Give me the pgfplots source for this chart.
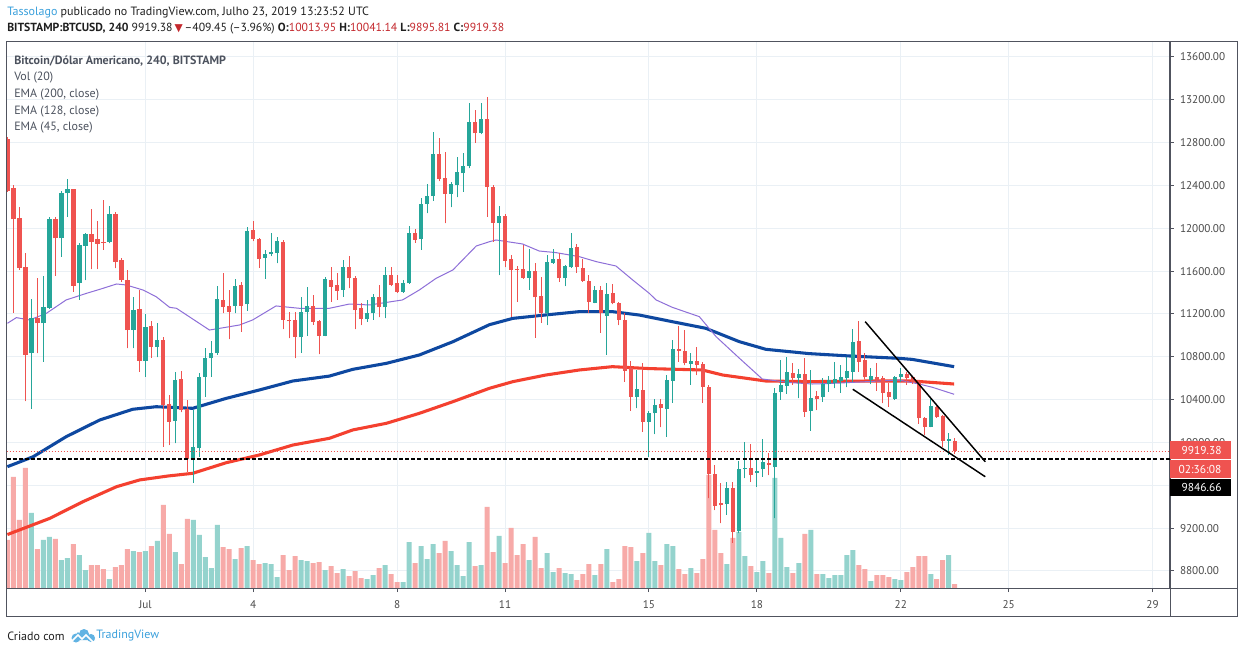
\documentclass[border=0pt]{standalone}
\usepackage{pgfplots}
\pgfplotsset{compat=1.18}
\usepackage{pgfplotstable}
\usepackage{fontspec}
\setmainfont{PT Sans}
\newfontfamily\dejavu{DejaVu Sans}
\definecolor{tvgreen}{HTML}{26A69A}
\definecolor{tvred}{HTML}{EF5350}
\definecolor{volgreen}{HTML}{94D3CD}
\definecolor{volred}{HTML}{F7AAA8}
\definecolor{emared}{HTML}{F4402F}
\definecolor{emablue}{HTML}{0E48A0}
\definecolor{emapurple}{HTML}{8E6FD8}
\definecolor{gridc}{HTML}{EAF0F5}
\definecolor{framec}{HTML}{50535E}
\definecolor{labelc}{HTML}{4A4A4A}
\definecolor{legc}{HTML}{4C525E}
\definecolor{linkc}{HTML}{3AA0DC}
\definecolor{hred}{HTML}{C4282D}

% i O H L C V
\pgfplotstableread{
i O H L C V
4 10832 11340 10316 11160 75
6 11113 11555 10755 11262 48
7 11259 12109 11250 12087 51
9 11906 12352 11735 12333 28
10 12327 12461 12109 12367 30
12 11492 11860 11331 11844 33
13 11838 11953 11517 11947 18
17 11875 12208 11860 12134 9
21 11050 11362 10879 11240 37
23 10764 11200 10615 11078 37
25 10895 11119 10795 10957 47
28 10204 10661 9992 10583 36
31 9836 10303 9625 9961 68
32 9945 10646 9867 10608 53
33 10615 10879 10428 10786 31
34 10786 10951 10615 10839 20
35 10832 11461 10820 11340 63
38 11274 11527 11206 11461 29
40 11290 12015 11231 11978 42
43 11726 11798 11527 11760 25
44 11760 11953 11740 11779 24
45 11773 11922 11673 11882 11
49 10982 11362 10839 11218 28
50 11218 11449 10995 11274 27
53 10997 11542 10990 11527 18
56 11424 11704 11362 11642 19
60 11150 11331 11128 11212 9
61 11206 11387 11144 11355 13
63 11262 11636 11159 11564 23
66 11408 11517 11400 11486 6
67 11486 12022 11480 11953 46
69 11900 12280 11798 12227 42
70 12227 12414 12140 12302 29
71 12302 12896 12258 12694 44
74 12321 12436 12196 12411 37
75 12405 12669 12289 12526 23
76 12514 12700 12342 12582 12
77 12582 13174 12560 12990 46
79 12893 13167 12880 13018 23
82 12053 12208 11564 12115 52
87 11539 11804 11424 11601 28
90 11206 11751 11097 11682 35
91 11679 11804 11670 11714 16
93 11533 11660 11461 11648 15
94 11636 11953 11630 11813 14
98 11306 11461 11300 11424 13
100 11181 11493 10817 11387 39
105 10428 10677 10319 10497 27
107 10194 10290 9867 10279 55
108 10272 10403 10079 10350 27
110 10310 10630 10054 10583 44
111 10577 10957 10372 10870 42
114 10733 10839 10537 10761 20
120 9425 9634 9323 9572 24
122 9176 9830 9150 9749 56
123 9749 10008 9665 9759 32
125 9718 9836 9587 9734 16
126 9749 10029 9681 9815 27
128 9768 10506 9292 10459 110
129 10468 10770 10397 10537 50
130 10531 10801 10453 10661 21
132 10605 10683 10412 10640 25
134 10297 10677 10110 10412 58
136 10421 10599 10381 10546 14
137 10546 10621 10475 10583 10
138 10552 10755 10506 10590 13
139 10577 10723 10465 10608 13
140 10599 10795 10515 10668 33
141 10661 11057 10568 10942 38
144 10583 10693 10546 10621 7
148 10403 10620 10400 10608 9
149 10608 10692 10568 10640 8
154 10148 10403 10140 10341 14
157 10014 10085 9883 10029 33
}\greentab

\pgfplotstableread{
i O H L C V
0 12831 12850 12340 12352 48
1 12373 12405 11212 12084 111
2 12093 12196 11611 11633 68
3 11639 11766 10387 10817 120
5 11160 11539 10832 11113 39
8 12087 12103 11555 11906 49
11 12367 12370 11408 11464 44
14 11947 12177 11617 11875 23
15 11900 12068 11620 11854 23
16 11869 12264 11800 11863 19
18 12134 12149 11626 11688 21
19 11704 11720 11500 11517 23
20 11517 11611 10879 11050 39
22 11247 11424 10661 10764 36
24 11088 11134 10792 10895 42
26 10957 10988 9961 10350 83
27 10359 10443 9976 10194 54
29 10593 10668 10280 10303 24
30 10316 10397 9727 9843 69
36 11330 11586 11206 11268 41
37 11274 11424 10963 11222 39
39 11471 11500 11035 11278 40
41 11984 12071 11880 11900 28
42 11900 11910 11633 11713 24
46 11875 11890 11057 11144 33
47 11144 11222 10973 11130 18
48 11144 11222 10786 10988 32
51 11274 11377 11100 11128 25
52 11134 11140 10823 10997 26
54 11517 11642 11315 11455 22
55 11471 11586 11331 11418 15
57 11642 11745 11440 11533 12
58 11539 11550 11057 11237 17
59 11253 11299 11097 11150 10
62 11355 11471 11169 11262 20
64 11564 11642 11460 11471 14
65 11492 11564 11400 11408 6
68 11953 11990 11866 11891 25
72 12694 12840 12440 12461 35
73 12467 12716 12047 12321 47
78 12990 13105 12800 12887 22
80 13018 13223 12109 12389 81
81 12383 12400 11875 12053 36
83 12115 12130 11636 11698 25
84 11714 11751 11175 11611 60
85 11620 11648 11312 11611 33
86 11620 11844 11530 11539 44
88 11601 11673 10979 11355 51
89 11368 11542 11119 11206 20
92 11714 11767 11502 11533 20
95 11822 11854 11586 11636 8
96 11632 11710 11500 11511 14
97 11508 11564 11212 11315 24
99 11424 11461 11025 11206 24
101 11393 11480 11290 11299 6
102 11299 11310 11097 11144 9
103 11144 11206 10568 10671 42
104 10692 10764 10297 10428 41
106 10490 10739 10101 10194 35
109 10356 10403 10141 10319 23
112 10870 11088 10755 10857 19
113 10854 11050 10720 10739 14
115 10761 10895 10630 10723 15
116 10733 10750 10372 10521 29
117 10521 10537 9478 9706 113
118 9706 9790 9369 9407 58
119 9438 9618 9245 9416 35
121 9572 9634 9064 9167 50
124 9759 9986 9634 9696 22
127 9805 9899 9696 9790 15
131 10652 10745 10537 10605 15
133 10640 10786 10241 10288 54
135 10434 10484 10303 10403 14
142 10951 11138 10661 10755 23
143 10770 10839 10590 10608 19
145 10608 10739 10484 10583 13
146 10599 10620 10366 10465 13
147 10475 10552 10334 10428 11
150 10640 10660 10537 10605 16
151 10608 10621 10550 10568 21
152 10568 10580 10173 10225 32
153 10225 10240 10070 10148 32
155 10328 10340 10230 10241 9
156 10247 10260 9955 10017 28
158 10013.95 10041.14 9895.81 9919.38 4
}\redtab

\pgfplotstableread{
i v
0 9140
7.05 9291
12.6 9447
18.2 9587
22.05 9650
26.8 9687
30.9 9712
36.5 9811
42.0 9883
47.6 9976
53.7 10039
57.6 10117
63.2 10179
68.7 10272
74.3 10381
80.4 10506
84.3 10568
89.8 10630
95.4 10677
100.9 10708
107.05 10690
115.9 10677
119.3 10630
126.5 10574
133.7 10568
143.2 10574
150.9 10574
157.9 10546
}\emaA

\pgfplotstableread{
i v
0 9774
4.3 9867
9.8 10054
15.4 10210
20.9 10310
24.8 10334
30.9 10319
36.5 10412
42.0 10490
47.6 10574
53.7 10620
57.6 10683
63.2 10739
68.7 10817
74.3 10941
80.4 11100
84.3 11159
89.8 11191
95.4 11222
100.9 11222
105.4 11190
110.9 11128
116.5 11066
122.1 10941
126.5 10870
133.7 10830
140.4 10808
148.7 10786
150.9 10776
157.9 10708
}\emaB

\pgfplotstableread{
i v
0 11113
1.5 11166
3.7 11144
6.5 11206
9.8 11331
13.2 11393
15.4 11430
18.2 11480
19.8 11471
22.6 11424
24.8 11362
27.05 11262
28.2 11253
33.7 11050
38.7 11097
40.9 11144
44.8 11275
48.7 11253
53.7 11253
57.05 11293
60.4 11284
65.9 11331
68.7 11424
71.5 11533
74.3 11611
78.2 11835
80.4 11875
81.5 11891
85.9 11854
88.7 11788
91.5 11773
95.4 11735
98.2 11689
101.5 11648
104.3 11517
107.05 11393
108.2 11331
110.9 11262
115.4 11175
118.2 10988
122.1 10786
125.9 10593
130.4 10560
134.3 10546
137.6 10552
148.7 10583
152.05 10546
154.3 10515
157.9 10450
}\emaC

\pgfplotsset{tvgeom/.style={at={(4.875pt,48.75pt)}, anchor=south west, scale only axis,
  width=872.6pt, height=409.5pt, xmin=-0.15, xmax=193.9},
  candle/.style={only marks, mark size=0pt, mark options={draw=none, fill=none},
  error bars/.cd, y dir=plus, y explicit, error mark=none}}

\begin{document}
\begin{tikzpicture}
\begin{scope}[x=0.75pt,y=0.75pt]
\path[use as bounding box, fill=white] (0,0) rectangle (1244,653);
\end{scope}

% grid, ticks and labels
\begin{axis}[tvgeom, ymin=8641, ymax=13740,
  xtick={23,41,65,83,107,125,149,167,191},
  xticklabels={Jul,4,8,11,15,18,22,25,29},
  ytick={8800,9200,...,13600},
  scaled y ticks=false,
  grid=major, major grid style={color=gridc, line width=0.75pt},
  axis line style={color=framec, line width=0.75pt},
  tick style={color=framec, line width=0.75pt},
  tick align=outside, major tick length=3pt,
  xtick pos=lower, ytick pos=upper, yticklabel pos=upper,
  yticklabel style={font=\fontsize{8.4}{10}\selectfont, color=labelc, anchor=west, xshift=1pt},
  xticklabel style={font=\fontsize{8.4}{10}\selectfont, color=labelc, yshift=-3pt},
  /pgf/number format/.cd, fixed, fixed zerofill, precision=2, 1000 sep={}, assume math mode=true]
\end{axis}

% volume
\begin{axis}[tvgeom, hide axis, ymin=0, ymax=546, ybar, bar width=3.75pt, bar shift=0pt]
\addplot[fill=volgreen, draw=none] table[x=i, y=V] {\greentab};
\addplot[fill=volred, draw=none] table[x=i, y=V] {\redtab};
\end{axis}

% price series
\begin{axis}[tvgeom, hide axis, ymin=8641, ymax=13740]
\addplot[emared, line width=2.3pt] table[x=i, y=v] {\emaA};
\addplot[emablue, line width=2.3pt] table[x=i, y=v] {\emaB};
\addplot[emapurple, line width=0.75pt] table[x=i, y=v] {\emaC};
% wicks
\addplot[candle, error bar style={draw=tvgreen, line width=0.75pt}]
  table[x=i, y=L, y error expr=\thisrow{H}-\thisrow{L}] {\greentab};
\addplot[candle, error bar style={draw=tvred, line width=0.75pt}]
  table[x=i, y=L, y error expr=\thisrow{H}-\thisrow{L}] {\redtab};
% bodies
\addplot[candle, error bar style={draw=tvgreen, line width=3.3pt}]
  table[x=i, y=O, y error expr={max(\thisrow{C}-\thisrow{O},12)}] {\greentab};
\addplot[candle, error bar style={draw=tvred, line width=3.3pt}]
  table[x=i, y=C, y error expr={max(\thisrow{O}-\thisrow{C},12)}] {\redtab};
% price lines
\addplot[tvred, line width=0.75pt, dash pattern=on 0.75pt off 1.5pt] coordinates {(-0.15,9919.38) (193.9,9919.38)};
\addplot[black, line width=1.2pt, dash pattern=on 3pt off 1.6pt] coordinates {(-0.15,9846.66) (193.9,9846.66)};
% wedge lines
\addplot[black, line width=1.1pt] coordinates {(143.07,11128) (163.1,9820)};
\addplot[black, line width=1.1pt] coordinates {(141.0,10497) (163.1,9680)};
\end{axis}

\begin{scope}[x=0.75pt,y=0.75pt]
% frame
\draw[framec, line width=0.75pt] (6.5,611) rectangle (1237,37);
\draw[framec, line width=0.75pt] (1170,611) -- (1170,37);
\draw[framec, line width=0.75pt] (6.5,65) -- (1237,65);

% price boxes
\fill[tvred] (1170,212) rectangle (1231,194);
\node[white, font=\fontsize{8.6}{10}\selectfont, anchor=west] at (1177,203) {9919.38};
\fill[tvred] (1170,193) rectangle (1231,175);
\node[white, font=\fontsize{8.6}{10}\selectfont, anchor=west] at (1174,184) {02:36:08};
\fill[black] (1170,174) rectangle (1231,157);
\node[white, font=\fontsize{8.6}{10}\selectfont, anchor=west] at (1177,165.5) {9846.66};

% header
\node[anchor=west, inner sep=0pt, font=\fontsize{9}{11}\selectfont, color=black!88] at (7,640)
  {\textcolor{linkc}{Tassolago} publicado no TradingView.com, Julho 23, 2019 13:23:52 UTC};
\node[anchor=west, inner sep=0pt, font=\fontsize{8.8}{11}\selectfont, color=black!88] at (7,624)
  {\textbf{BITSTAMP:BTCUSD, 240} 9919.38\,{\dejavu\fontsize{8}{10}\selectfont\color{hred}▼}\,–409.45 (–3.96\%) \textbf{O:}\textcolor{hred}{10013.95} \textbf{H:}\textcolor{hred}{10041.14} \textbf{L:}\textcolor{hred}{9895.81} \textbf{C:}\textcolor{hred}{9919.38}};

% legend
\begin{scope}[every node/.style={anchor=west, inner sep=0pt, color=legc, font=\fontsize{9}{11}\selectfont}]
\node at (14,592) {\textbf{Bitcoin/Dólar Americano, 240, BITSTAMP}};
\node at (14,575) {Vol (20)};
\node at (14,558) {EMA (200, close)};
\node at (14,541) {EMA (128, close)};
\node at (14,525) {EMA (45, close)};
\end{scope}

% footer
\node[anchor=west, inner sep=0pt, font=\fontsize{9}{11}\selectfont, color=black!88] at (7,17) {Criado com};
\fill[linkc!80] (72,13) -- (78,21) -- (82,17) -- (86,21) -- (95,13) -- cycle;
\fill[linkc!80] (76,15) circle (4.5) (84,19) circle (5) (91,15) circle (4);
\draw[white, line width=1.2pt] (72,12) -- (78,18) -- (82,14) -- (86,18) -- (93,11);
\node[anchor=west, inner sep=0pt, font=\fontsize{9}{11}\selectfont, color=linkc] at (96,17) {TradingView};
\end{scope}
\end{tikzpicture}
\end{document}
